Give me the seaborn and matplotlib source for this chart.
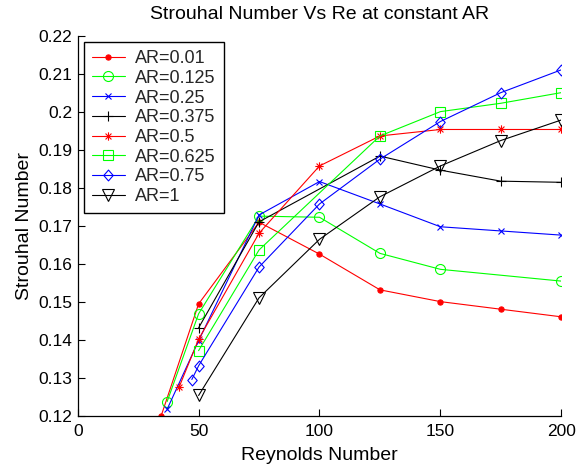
import matplotlib
matplotlib.use("Agg")
import matplotlib.pyplot as plt
from matplotlib.path import Path
import numpy as np
import pandas as pd
import seaborn as sns

# ---- data ----
labels = ["AR=0.01", "AR=0.125", "AR=0.25", "AR=0.375", "AR=0.5", "AR=0.625", "AR=0.75", "AR=1"]

re_001 = [34.5, 50, 75, 100, 125, 150, 175, 200]
st_001 = [0.1200, 0.1495, 0.1710, 0.1626, 0.1532, 0.1501, 0.1481, 0.1461]

re_0125 = [37, 50, 75, 100, 125, 150, 200]
st_0125 = [0.1238, 0.1469, 0.1726, 0.1723, 0.1628, 0.1586, 0.1555]

re_025 = [37, 50, 75, 100, 125, 150, 175, 200]
st_025 = [0.1218, 0.1398, 0.1729, 0.1817, 0.1758, 0.1698, 0.1687, 0.1676]

re_0375 = [50, 75, 125, 150, 175, 200]
st_0375 = [0.1432, 0.1711, 0.1884, 0.1847, 0.1818, 0.1815]

re_05 = [42, 50, 75, 100, 125, 150, 175, 200]
st_05 = [0.1277, 0.1402, 0.1681, 0.1858, 0.1937, 0.1954, 0.1954, 0.1954]

re_0625 = [50, 75, 125, 150, 175, 200]
st_0625 = [0.1372, 0.1637, 0.1937, 0.2001, 0.2023, 0.2051]

re_075 = [47.2, 50, 75, 100, 125, 150, 175, 200]
st_075 = [0.1296, 0.1332, 0.1592, 0.1758, 0.1876, 0.1975, 0.2051, 0.2111]

re_1 = [50, 75, 100, 125, 150, 175, 200]
st_1 = [0.1254, 0.1511, 0.1665, 0.1777, 0.1858, 0.1925, 0.1979]

x_ticks = [0, 50, 100, 150, 200]
x_ticklabels = ["0", "50", "100", "150", "200"]
y_ticks = [0.12, 0.13, 0.14, 0.15, 0.16, 0.17, 0.18, 0.19, 0.20, 0.21, 0.22]
y_ticklabels = ["0.12", "0.13", "0.14", "0.15", "0.16", "0.17", "0.18", "0.19", "0.2", "0.21", "0.22"]

title = "Strouhal Number Vs Re at constant AR"
xlabel = "Reynolds Number"
ylabel = "Strouhal Number"

# ---- marker shapes (MATLAB-like) ----
_d = 0.7071
asterisk = Path(
    [(-1, 0), (1, 0), (0, -1), (0, 1), (-_d, -_d), (_d, _d), (-_d, _d), (_d, -_d)],
    [Path.MOVETO, Path.LINETO] * 4,
)
diamond = Path(
    [(0, 1), (0.87, 0), (0, -1), (-0.87, 0), (0, 1)],
    [Path.MOVETO, Path.LINETO, Path.LINETO, Path.LINETO, Path.CLOSEPOLY],
)

# ---- styling ----
sns.set_theme(style="white")
plt.rcParams["font.family"] = ["Liberation Sans", "DejaVu Sans"]

series = [
    (re_001, st_001, "#ff0000", ".", 7.5, True),
    (re_0125, st_0125, "#00ff00", "o", 7.2, False),
    (re_025, st_025, "#0000ff", "x", 4.2, False),
    (re_0375, st_0375, "#000000", "+", 6.5, False),
    (re_05, st_05, "#ff0000", asterisk, 6.0, False),
    (re_0625, st_0625, "#00ff00", "s", 6.8, False),
    (re_075, st_075, "#0000ff", diamond, 7.8, False),
    (re_1, st_1, "#000000", "v", 8.4, False),
]

fig = plt.figure(figsize=(5.85, 4.67), dpi=100)
fig.patch.set_facecolor("white")
ax = fig.add_axes([0.1328, 0.1092, 0.8267, 0.8137])
ax.set_facecolor("white")

for (xs, ys, c, m, ms, filled), lab in zip(series, labels):
    df = pd.DataFrame({"Re": xs, "St": ys})
    kw = dict(marker=m, markersize=ms, color=c, linewidth=0.8,
              markeredgecolor=c, markeredgewidth=0.8,
              markerfacecolor=(c if filled else "none"))
    sns.lineplot(data=df, x="Re", y="St", ax=ax, label=lab, sort=False,
                 estimator=None, **kw)

ax.set_xlim(0, 200)
ax.set_ylim(0.12, 0.22)
ax.set_xticks(x_ticks)
ax.set_xticklabels(x_ticklabels)
ax.set_yticks(y_ticks)
ax.set_yticklabels(y_ticklabels)

for s in ["top", "right"]:
    ax.spines[s].set_visible(False)
for s in ["left", "bottom"]:
    ax.spines[s].set_color("black")
    ax.spines[s].set_linewidth(0.9)

ax.tick_params(axis="both", direction="in", length=5, width=0.8, colors="black",
               labelsize=12.5, left=True, bottom=True)
ax.tick_params(axis="x", pad=5.5)
ax.tick_params(axis="y", pad=4)

ax.set_title(title, fontsize=14, color="black", pad=12)
ax.set_xlabel(xlabel, fontsize=14, color="black", labelpad=6)
ax.set_ylabel(ylabel, fontsize=14, color="black", labelpad=4)

leg = ax.legend(loc="upper left", fontsize=13, frameon=True, fancybox=False,
                edgecolor="black", framealpha=1, handlelength=1.85,
                handletextpad=0.55, labelspacing=0.15, borderaxespad=0.33,
                borderpad=0.45)
leg.get_frame().set_linewidth(1.0)

fig.savefig("out.png", dpi=100, facecolor="white")
